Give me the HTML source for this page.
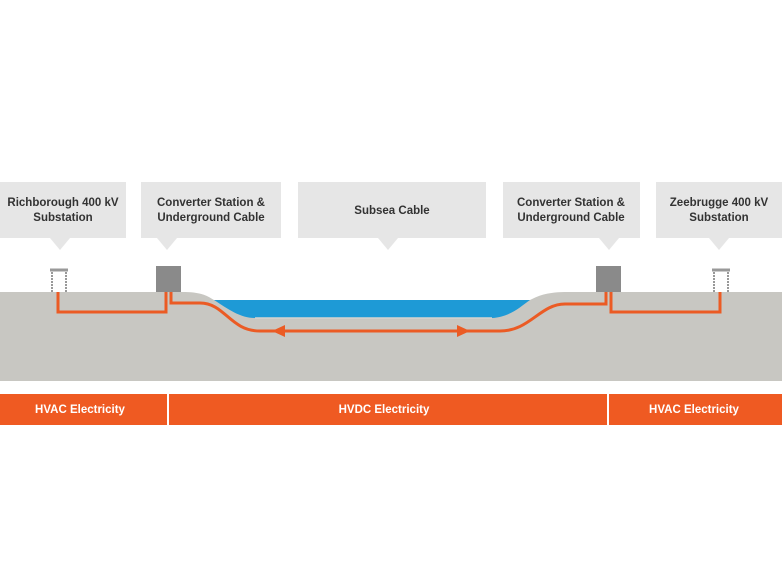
<!DOCTYPE html>
<html><head><style>
body{margin:0;width:782px;height:565px;background:#fff;overflow:hidden;font-family:"Liberation Sans",sans-serif}
.t{font-weight:bold;font-size:11.5px;fill:#333;text-anchor:middle}
.w{font-weight:bold;font-size:11.5px;fill:#fff;text-anchor:middle}
</style></head><body>
<svg width="782" height="565" viewBox="0 0 782 565">
<g fill="#e6e6e6">
<rect x="0" y="182" width="126" height="56"/><polygon points="50,238 70,238 60,250"/>
<rect x="141" y="182" width="140" height="56"/><polygon points="157,238 177,238 167,250"/>
<rect x="298" y="182" width="188" height="56"/><polygon points="378,238 398,238 388,250"/>
<rect x="503" y="182" width="137" height="56"/><polygon points="599,238 619,238 609,250"/>
<rect x="656" y="182" width="126" height="56"/><polygon points="709,238 729,238 719,250"/>
</g>
<text class="t" x="63" y="206">Richborough 400 kV</text><text class="t" x="63" y="221">Substation</text>
<text class="t" x="211" y="206">Converter Station &amp;</text><text class="t" x="211" y="221">Underground Cable</text>
<text class="t" x="392" y="214">Subsea Cable</text>
<text class="t" x="571" y="206">Converter Station &amp;</text><text class="t" x="571" y="221">Underground Cable</text>
<text class="t" x="719" y="206">Zeebrugge 400 kV</text><text class="t" x="719" y="221">Substation</text>
<path d="M0,292 H182 C200,292 206,295 214,300 L530,300 C540,295 548,292 568,292 H782 V381 H0Z" fill="#c8c7c2"/>
<path d="M214,300 H530 C520,307 510,317 492,318 H255 C240,318 228,309 214,300Z" fill="#1e9ad6"/>
<path d="M255,318 H492" stroke="#d5d4cf" stroke-width="1.5"/>
<rect x="156" y="266" width="25" height="26" fill="#8a8a8a"/>
<rect x="596" y="266" width="25" height="26" fill="#8a8a8a"/>
<g fill="none" stroke="#999" stroke-width="2" stroke-dasharray="2,1">
<path d="M52,292 V271 M66,292 V271 M714,292 V271 M728,292 V271"/>
</g>
<g stroke="#999" stroke-width="3"><path d="M50,270 H68 M712,270 H730"/></g>
<g fill="none" stroke="#eb5b24" stroke-width="3">
<path d="M58,292 V312 H166 V292"/>
<path d="M171,292 V303 H200 C225,303 230,331 260,331 H500 C530,331 540,304 565,304 H606 V292"/>
<path d="M611,292 V312 H720 V292"/>
</g>
<polygon points="272,331 285,325 285,337" fill="#eb5b24"/>
<polygon points="470,331 457,325 457,337" fill="#eb5b24"/>
<rect x="0" y="394" width="782" height="31" fill="#ef5a22"/>
<rect x="167" y="394" width="2" height="31" fill="#fff"/>
<rect x="607" y="394" width="2" height="31" fill="#fff"/>
<text class="w" x="80" y="413">HVAC Electricity</text>
<text class="w" x="384" y="413">HVDC Electricity</text>
<text class="w" x="694" y="413">HVAC Electricity</text>
</svg>
</body></html>
